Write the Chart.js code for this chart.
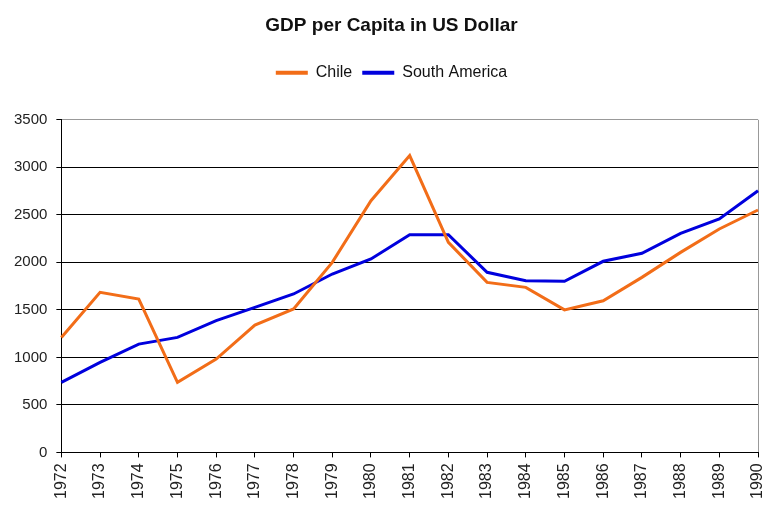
<!DOCTYPE html>
<html>
<head>
<meta charset="utf-8">
<script src="https://cdn.jsdelivr.net/npm/chart.js@4"></script>
<style>
  html, body { margin: 0; padding: 0; background: #fff; }
  #wrap { width: 780px; height: 512px; }
</style>
</head>
<body>
<div id="wrap"><canvas id="gdpChart" width="780" height="512"></canvas></div>
<script>
const years = ['1972', '1973', '1974', '1975', '1976', '1977', '1978', '1979', '1980', '1981',
    '1982', '1983', '1984', '1985', '1986', '1987', '1988', '1989', '1990'];
const chile = [1210, 1684, 1614, 737, 982, 1340, 1509, 2000, 2649, 3123,
    2210, 1789, 1737, 1500, 1596, 1842, 2105, 2351, 2551];
const southAmerica = [737, 947, 1140, 1210, 1386, 1526, 1667, 1877, 2035, 2291,
    2291, 1895, 1807, 1800, 2011, 2095, 2305, 2456, 2754];
const yTicks = [0, 500, 1000, 1500, 2000, 2500, 3000, 3500];

const orange = '#F26D18';
const blue = '#0000DD';

Chart.defaults.font.family = '"Liberation Sans", Arial, sans-serif';
Chart.defaults.color = '#222';

// push the plot area down below the legend, and centre title/legend on the canvas
const headerFix = {
    id: 'headerFix',
    beforeInit(chart) {
        const fit = chart.legend.fit;
        chart.legend.fit = function () {
            fit.bind(chart.legend)();
            this.height += 29;
        };
    },
    afterLayout(chart) {
        [chart.titleBlock, chart.legend].forEach(box => {
            box.left += 10;
            box.right += 10;
        });
    }
};

const ctx = document.getElementById('gdpChart').getContext('2d');
const gdpChart = new Chart(ctx, {
    type: 'line',
    data: {
        labels: years,
        datasets: [
            {
                label: 'Chile',
                data: chile,
                borderColor: orange,
                backgroundColor: orange,
                borderWidth: 3,
                pointRadius: 0,
                tension: 0
            },
            {
                label: 'South America',
                data: southAmerica,
                borderColor: blue,
                backgroundColor: blue,
                borderWidth: 3,
                pointRadius: 0,
                tension: 0
            }
        ]
    },
    options: {
        responsive: false,
        animation: false,
        layout: {
            padding: { left: 5, right: 22, top: 0, bottom: 7 }
        },
        plugins: {
            title: {
                display: true,
                text: 'GDP per Capita in US Dollar',
                font: { size: 19, weight: 'bold' },
                color: '#111',
                padding: { top: 14, bottom: 18 }
            },
            legend: {
                position: 'top',
                labels: {
                    boxWidth: 32,
                    boxHeight: 4,
                    padding: 10,
                    font: { size: 16 },
                    color: '#111',
                    generateLabels: chart => {
                        const items = Chart.defaults.plugins.legend.labels.generateLabels(chart);
                        items.forEach(item => {
                            item.lineWidth = 0;
                            item.fillStyle = item.strokeStyle;
                        });
                        return items;
                    }
                }
            },
            tooltip: { enabled: false }
        },
        scales: {
            x: {
                offset: false,
                afterFit: scale => {
                    scale.paddingRight = 0;
                },
                grid: {
                    drawOnChartArea: true,
                    color: c => c.index === years.length - 1 ? '#999' : 'rgba(0,0,0,0)',
                    tickColor: '#000',
                    tickLength: 5
                },
                border: { color: '#000', width: 1 },
                ticks: {
                    maxRotation: 90,
                    minRotation: 90,
                    autoSkip: false,
                    font: { size: 16 },
                    padding: 6
                }
            },
            y: {
                min: 0,
                max: 3500,
                afterBuildTicks: axis => {
                    axis.ticks = yTicks.map(v => ({ value: v }));
                },
                grid: {
                    color: c => c.tick && c.tick.value === 3500 ? '#999' : '#000',
                    tickColor: '#000',
                    tickLength: 5
                },
                border: { color: '#000', width: 1 },
                ticks: {
                    font: { size: 15 },
                    padding: 9,
                    callback: v => String(v)
                }
            }
        }
    },
    plugins: [headerFix]
});
</script>
</body>
</html>
